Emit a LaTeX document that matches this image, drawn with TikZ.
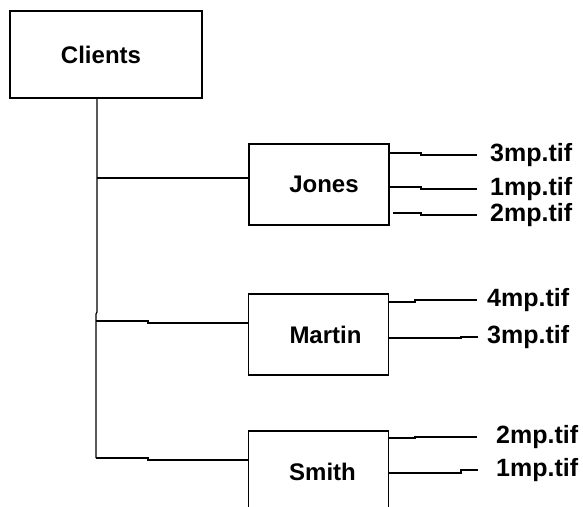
\documentclass[tikz,border=0pt]{standalone}
\usepackage{fontspec}
\setmainfont{Liberation Sans}
\tikzset{
  box/.style={draw, line width=1.2pt, minimum width=140pt, minimum height=81pt, inner sep=0pt, font=\fontsize{24}{26}\selectfont\bfseries},
  file/.style={anchor=west, inner ysep=0pt, font=\fontsize{25}{27}\selectfont\bfseries},
  wire/.style={line width=1.2pt}
}
\begin{document}
\begin{tikzpicture}[x=1pt, y=-1pt]
    \clip (0,0) rectangle (583,506);

    % root
    \node[box, minimum width=192pt, minimum height=87pt] (clients) at (106,54.5) {Clients\kern10pt\relax};

    % client boxes
    \node[box] (jones)  at (319,184.5) {\hspace{10pt}Jones};
    \node[box] (martin) at (318.5,334.5) {\hspace{14pt}Martin};
    \node[box] (smith)  at (318.5,471.5) {\hspace{8pt}Smith};

    % trunk
    \coordinate (top) at (97,98);
    \coordinate (tj) at (97,178);
    \coordinate (tm) at (96,321);
    \coordinate (ts) at (96,458);
    \draw[wire] (top) -- (tj) -- (97,312) -- (96,314) -- (ts);
    \draw[wire] (tj) -- (tj -| jones.west);
    \draw[wire] (tm) -- (148,321) -- (148,323) -- (martin.west |- 0,323);
    \draw[wire] (ts) -- (148,458) -- (148,460) -- (smith.west |- 0,460);

    % files of Jones
    \node[file, inner xsep=13pt] (j1) at (477,155) {3mp.tif};
    \node[file, inner xsep=13pt] (j2) at (477,189) {1mp.tif};
    \node[file, inner xsep=13pt] (j3) at (477,215) {2mp.tif};
    \draw[wire] (jones.east |- 0,153) -- (421,153) -- (421,155) -- (j1.west);
    \draw[wire] (jones.east |- 0,187) -- (421,187) -- (421,189) -- (j2.west);
    \draw[wire] (393,213) -- (421,213) -- (421,215) -- (j3.west);

    % files of Martin
    \node[file, inner xsep=10pt] (m1) at (477,300) {4mp.tif};
    \node[file, inner xsep=9pt] (m2) at (478,337) {3mp.tif};
    \draw[wire] (martin.east |- 0,302) -- (415,302) -- (415,300) -- (m1.west);
    \draw[wire] (martin.east |- 0,338) -- (461,338) -- (461,337) -- (m2.west);

    % files of Smith
    \node[file, inner xsep=19pt] (s1) at (477,437) {2mp.tif};
    \node[file, inner xsep=18pt] (s2) at (478,470) {1mp.tif};
    \draw[wire] (smith.east |- 0,438) -- (415,438) -- (415,437) -- (s1.west);
    \draw[wire] (smith.east |- 0,473) -- (461,473) -- (461,470) -- (s2.west);
\end{tikzpicture}
\end{document}
